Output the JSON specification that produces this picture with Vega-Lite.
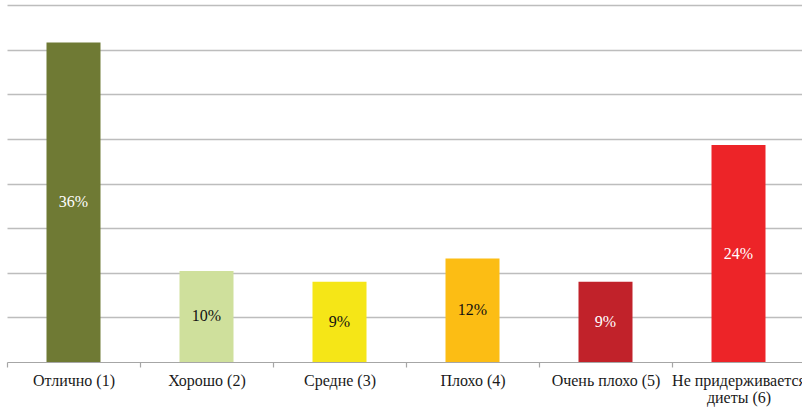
{
  "$schema": "https://vega.github.io/schema/vega-lite/v6.json",
  "width": 795,
  "height": 357,
  "autosize": "none",
  "padding": {"left": 7, "top": 5, "right": 0, "bottom": 45},
  "background": "white",
  "config": {"view": {"stroke": null}},
  "data": {
    "values": [
      {"cat": "Отлично (1)", "pct": 0.358},
      {"cat": "Хорошо (2)", "pct": 0.102},
      {"cat": "Средне (3)", "pct": 0.09},
      {"cat": "Плохо (4)", "pct": 0.116},
      {"cat": "Очень плохо (5)", "pct": 0.09},
      {"cat": "Не придерживается|диеты (6)", "pct": 0.243}
    ]
  },
  "layer": [
    {
      "mark": {"type": "bar", "width": 54},
      "encoding": {
        "x": {
          "field": "cat", "type": "nominal", "sort": null,
          "scale": {"range": [0, 798], "paddingInner": 0, "paddingOuter": 0},
          "axis": {
            "title": null, "labelAngle": 0, "tickBand": "extent",
            "labelExpr": "split(datum.label, '|')",
            "labelFont": "Liberation Serif", "labelFontSize": 16, "labelColor": "#1a1a1a",
            "labelLineHeight": 17, "labelPadding": 5, "labelOverlap": false, "labelBound": false,
            "labelLimit": 300,
            "domainColor": "#a6a6a6", "domainWidth": 1.2, "tickColor": "#a6a6a6", "tickSize": 5, "tickWidth": 1.2
          }
        },
        "y": {
          "field": "pct", "type": "quantitative",
          "scale": {"domain": [0, 0.4], "nice": false},
          "axis": {
            "title": null, "labels": false, "ticks": false, "domain": false, "grid": true,
            "values": [0.05, 0.1, 0.15, 0.2, 0.25, 0.3, 0.35, 0.4],
            "gridColor": "#bdbdbd", "gridWidth": 1.4
          }
        },
        "color": {
          "field": "cat", "type": "nominal", "sort": null, "legend": null,
          "scale": {"range": ["#6f7a34", "#cfe09c", "#f5e617", "#fcbd14", "#c1222a", "#ed2428"]}
        }
      }
    },
    {
      "mark": {"type": "text", "font": "Liberation Serif", "fontSize": 16, "baseline": "middle", "align": "center"},
      "encoding": {
        "x": {"field": "cat", "type": "nominal", "sort": null},
        "y": {"field": "pct", "type": "quantitative", "scale": {"domain": [0, 0.8], "nice": false}, "axis": null},
        "text": {"field": "pct", "type": "quantitative", "format": ".0%"},
        "color": {
          "condition": {"test": {"field": "cat", "oneOf": ["Хорошо (2)", "Средне (3)", "Плохо (4)"]}, "value": "#111111"},
          "value": "#ffffff"
        }
      }
    }
  ],
  "resolve": {"scale": {"y": "independent", "color": "independent"}}
}
